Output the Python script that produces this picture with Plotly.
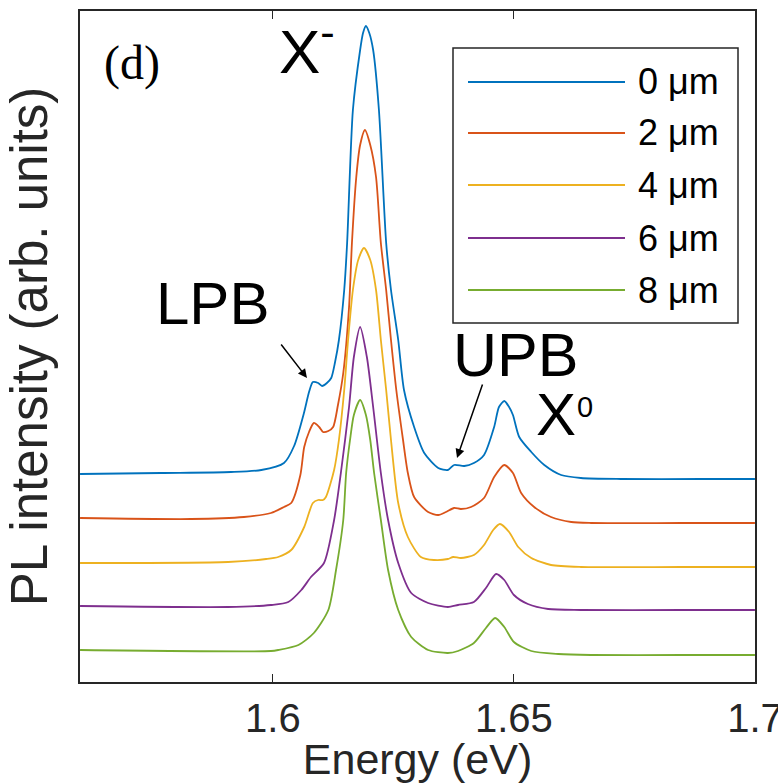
import plotly.graph_objects as go

# ---------------- data ----------------
names = ["0 μm", "2 μm", "4 μm", "6 μm", "8 μm"]
colors = ["#0072BD", "#D95319", "#EDB120", "#7E2F8E", "#77AC30"]

E_0um = [1.560, 1.5768, 1.5913, 1.5976, 1.6023, 1.6044, 1.6065, 1.6075, 1.6083, 1.6094,
         1.6102, 1.6112, 1.6121, 1.6129, 1.6137, 1.6148, 1.6154, 1.6166, 1.6181, 1.6187,
         1.6193, 1.6200, 1.6208, 1.6220, 1.6235, 1.6245, 1.6260, 1.6272, 1.6293, 1.6314,
         1.6343, 1.6363, 1.6376, 1.6397, 1.6417, 1.6438, 1.6459, 1.6469, 1.6480, 1.6490,
         1.6498, 1.6511, 1.6536, 1.6563, 1.6598, 1.6639, 1.6722, 1.6888, 1.700]
I_0um = [2.08, 2.09, 2.10, 2.12, 2.19, 2.36, 2.70, 2.90, 3.00, 2.99,
         2.96, 2.99, 3.04, 3.20, 3.42, 3.92, 4.39, 5.72, 6.32, 6.49,
         6.56, 6.49, 6.32, 5.72, 4.39, 3.92, 3.42, 2.92, 2.55, 2.29,
         2.14, 2.12, 2.17, 2.16, 2.19, 2.27, 2.55, 2.75, 2.81, 2.75,
         2.67, 2.45, 2.30, 2.17, 2.07, 2.04, 2.03, 2.03, 2.03]

E_2um = [1.560, 1.5830, 1.5940, 1.5996, 1.6023, 1.6038, 1.6057, 1.6065, 1.6075, 1.6085,
         1.6096, 1.6104, 1.6115, 1.6125, 1.6135, 1.6146, 1.6158, 1.6164, 1.6173, 1.6181,
         1.6191, 1.6202, 1.6214, 1.6224, 1.6235, 1.6245, 1.6256, 1.6270, 1.6280, 1.6293,
         1.6322, 1.6343, 1.6359, 1.6376, 1.6390, 1.6411, 1.6438, 1.6459, 1.6480, 1.6498,
         1.6515, 1.6542, 1.6577, 1.6619, 1.6660, 1.6847, 1.700]
I_2um = [1.64, 1.63, 1.65, 1.69, 1.75, 1.79, 2.07, 2.35, 2.50, 2.59,
         2.55, 2.50, 2.51, 2.55, 2.77, 3.09, 3.75, 4.39, 5.05, 5.37,
         5.52, 5.37, 5.05, 4.39, 3.92, 3.42, 2.92, 2.42, 2.09, 1.85,
         1.70, 1.67, 1.70, 1.74, 1.73, 1.75, 1.84, 2.05, 2.17, 2.09,
         1.89, 1.75, 1.65, 1.60, 1.59, 1.59, 1.59]

E_4um = [1.560, 1.5907, 1.5986, 1.6011, 1.6038, 1.6065, 1.6083, 1.6094, 1.6104, 1.6110,
         1.6127, 1.6137, 1.6148, 1.6156, 1.6166, 1.6177, 1.6189, 1.6202, 1.6214, 1.6224,
         1.6235, 1.6245, 1.6260, 1.6280, 1.6307, 1.6334, 1.6363, 1.6374, 1.6390, 1.6417,
         1.6438, 1.6457, 1.6471, 1.6490, 1.6509, 1.6536, 1.6577, 1.6639, 1.6847, 1.700]
I_4um = [1.19, 1.20, 1.23, 1.25, 1.32, 1.55, 1.79, 1.82, 1.82, 1.85,
         2.12, 2.42, 2.92, 3.42, 3.92, 4.22, 4.34, 4.22, 3.92, 3.42,
         2.92, 2.42, 1.79, 1.45, 1.25, 1.22, 1.23, 1.25, 1.24, 1.27,
         1.37, 1.52, 1.58, 1.50, 1.35, 1.24, 1.17, 1.15, 1.15, 1.15]

E_6um = [1.560, 1.5907, 1.5996, 1.6032, 1.6059, 1.6079, 1.6106, 1.6127, 1.6141, 1.6158,
         1.6168, 1.6181, 1.6195, 1.6208, 1.6224, 1.6239, 1.6260, 1.6287, 1.6322, 1.6363,
         1.6384, 1.6417, 1.6442, 1.6463, 1.6480, 1.6500, 1.6529, 1.6571, 1.6639, 1.6847,
         1.700]
I_6um = [0.76, 0.75, 0.77, 0.80, 0.92, 1.05, 1.19, 1.62, 2.09, 2.75,
         3.25, 3.55, 3.25, 2.75, 2.09, 1.62, 1.19, 0.89, 0.79, 0.75,
         0.77, 0.80, 0.94, 1.08, 1.02, 0.87, 0.78, 0.73, 0.72, 0.72,
         0.72]

E_8um = [1.560, 1.5996, 1.6011, 1.6053, 1.6085, 1.6115, 1.6131, 1.6146, 1.6152, 1.6160,
         1.6168, 1.6181, 1.6193, 1.6202, 1.6210, 1.6224, 1.6239, 1.6260, 1.6287, 1.6322,
         1.6363, 1.6384, 1.6417, 1.6442, 1.6461, 1.6480, 1.6500, 1.6536, 1.6592, 1.6660,
         1.6847, 1.700]
I_8um = [0.32, 0.31, 0.32, 0.37, 0.49, 0.72, 1.12, 1.62, 2.09, 2.42,
         2.67, 2.82, 2.67, 2.42, 2.09, 1.62, 1.12, 0.72, 0.45, 0.32,
         0.29, 0.31, 0.39, 0.54, 0.64, 0.55, 0.40, 0.31, 0.28, 0.27,
         0.27, 0.27]

energies = [E_0um, E_2um, E_4um, E_6um, E_8um]
intensities = [I_0um, I_2um, I_4um, I_6um, I_8um]

x_tickvals = [1.6, 1.65, 1.7]
x_ticktext = ["1.6", "1.65", "1.7"]

# ---------------- figure ----------------
W, H = 778, 783
L, R, T, B = 80, 23, 11, 101
AX = "#262626"
FONT = "Liberation Sans, Arial, sans-serif"

def px(xp):
    return (xp - L) / (W - L - R)

def py(yp):
    return (H - B - yp) / (H - T - B)

fig = go.Figure()
for e, inten, name, c in zip(energies, intensities, names, colors):
    fig.add_trace(go.Scatter(
        x=e, y=inten, mode="lines", name=name,
        line=dict(color=c, width=1.8, shape="spline", smoothing=0.7),
        showlegend=False))

fig.update_layout(
    width=W, height=H,
    margin=dict(l=L, r=R, t=T, b=B, pad=0),
    plot_bgcolor="white", paper_bgcolor="white",
    font=dict(family=FONT, color=AX),
)
fig.update_xaxes(
    range=[1.55999, 1.70001], tickvals=x_tickvals, ticktext=x_ticktext,
    ticks="inside", ticklen=8, tickwidth=1.2, tickcolor=AX,
    showline=True, linecolor=AX, linewidth=1.5, mirror="ticks",
    showgrid=False, zeroline=False, automargin=False,
    tickfont=dict(size=40, color=AX, family=FONT),
    ticklabelstandoff=0, ticklabeloverflow="allow",
    title=dict(text="Energy (eV)", font=dict(size=43, color=AX, family=FONT), standoff=6),
)
fig.update_yaxes(
    range=[0, 6.71], showticklabels=False, ticks="",
    showline=True, linecolor=AX, linewidth=1.5, mirror=True,
    showgrid=False, zeroline=False, automargin=False,
    title=dict(text="PL intensity (arb. units)", font=dict(size=51, color=AX, family=FONT), standoff=14),
)

# manual legend (long line samples as in the reference)
fig.add_shape(type="rect", xref="paper", yref="paper",
              x0=px(453), x1=px(738), y0=py(323), y1=py(48),
              line=dict(color=AX, width=1.5), fillcolor="white", layer="above")
rows = [82, 133, 185, 238, 290]
for yrow, name, c in zip(rows, names, colors):
    fig.add_shape(type="line", xref="paper", yref="paper",
                  x0=px(468), x1=px(625), y0=py(yrow), y1=py(yrow),
                  line=dict(color=c, width=1.8), layer="above")
    fig.add_annotation(xref="paper", yref="paper", x=px(636), y=py(yrow),
                       text=name, showarrow=False, xanchor="left", yanchor="middle",
                       font=dict(size=36, color="black", family=FONT))

# labels
fig.add_annotation(xref="paper", yref="paper", x=px(132), y=py(63), text="(d)",
                   showarrow=False, xanchor="center", yanchor="middle",
                   font=dict(size=48, color="black", family="Liberation Serif, Times New Roman, serif"))
fig.add_annotation(xref="paper", yref="paper", x=px(277), y=py(47), text="X<sup>-</sup>",
                   showarrow=False, xanchor="left", yanchor="middle",
                   font=dict(size=62, color="black", family=FONT))
fig.add_annotation(xref="paper", yref="paper", x=px(212), y=py(303), text="LPB",
                   showarrow=False, xanchor="center", yanchor="middle",
                   font=dict(size=60, color="black", family=FONT))
fig.add_annotation(xref="paper", yref="paper", x=px(515), y=py(355), text="UPB",
                   showarrow=False, xanchor="center", yanchor="middle",
                   font=dict(size=61, color="black", family=FONT))
fig.add_annotation(xref="paper", yref="paper", x=px(534), y=py(414), text="X",
                   showarrow=False, xanchor="left", yanchor="middle",
                   font=dict(size=60, color="black", family=FONT))
fig.add_annotation(xref="paper", yref="paper", x=px(575), y=py(407), text="0",
                   showarrow=False, xanchor="left", yanchor="middle",
                   font=dict(size=29, color="black", family=FONT))

# arrows
fig.add_annotation(xref="paper", yref="paper", x=px(307), y=py(378), ax=-27, ay=-35,
                   text="", showarrow=True, arrowhead=2, arrowsize=1.2, arrowwidth=1.5,
                   arrowcolor="black")
fig.add_annotation(xref="paper", yref="paper", x=px(457), y=py(458), ax=26, ay=-75,
                   text="", showarrow=True, arrowhead=2, arrowsize=1.2, arrowwidth=1.5,
                   arrowcolor="black")

fig.write_html("out.html")
